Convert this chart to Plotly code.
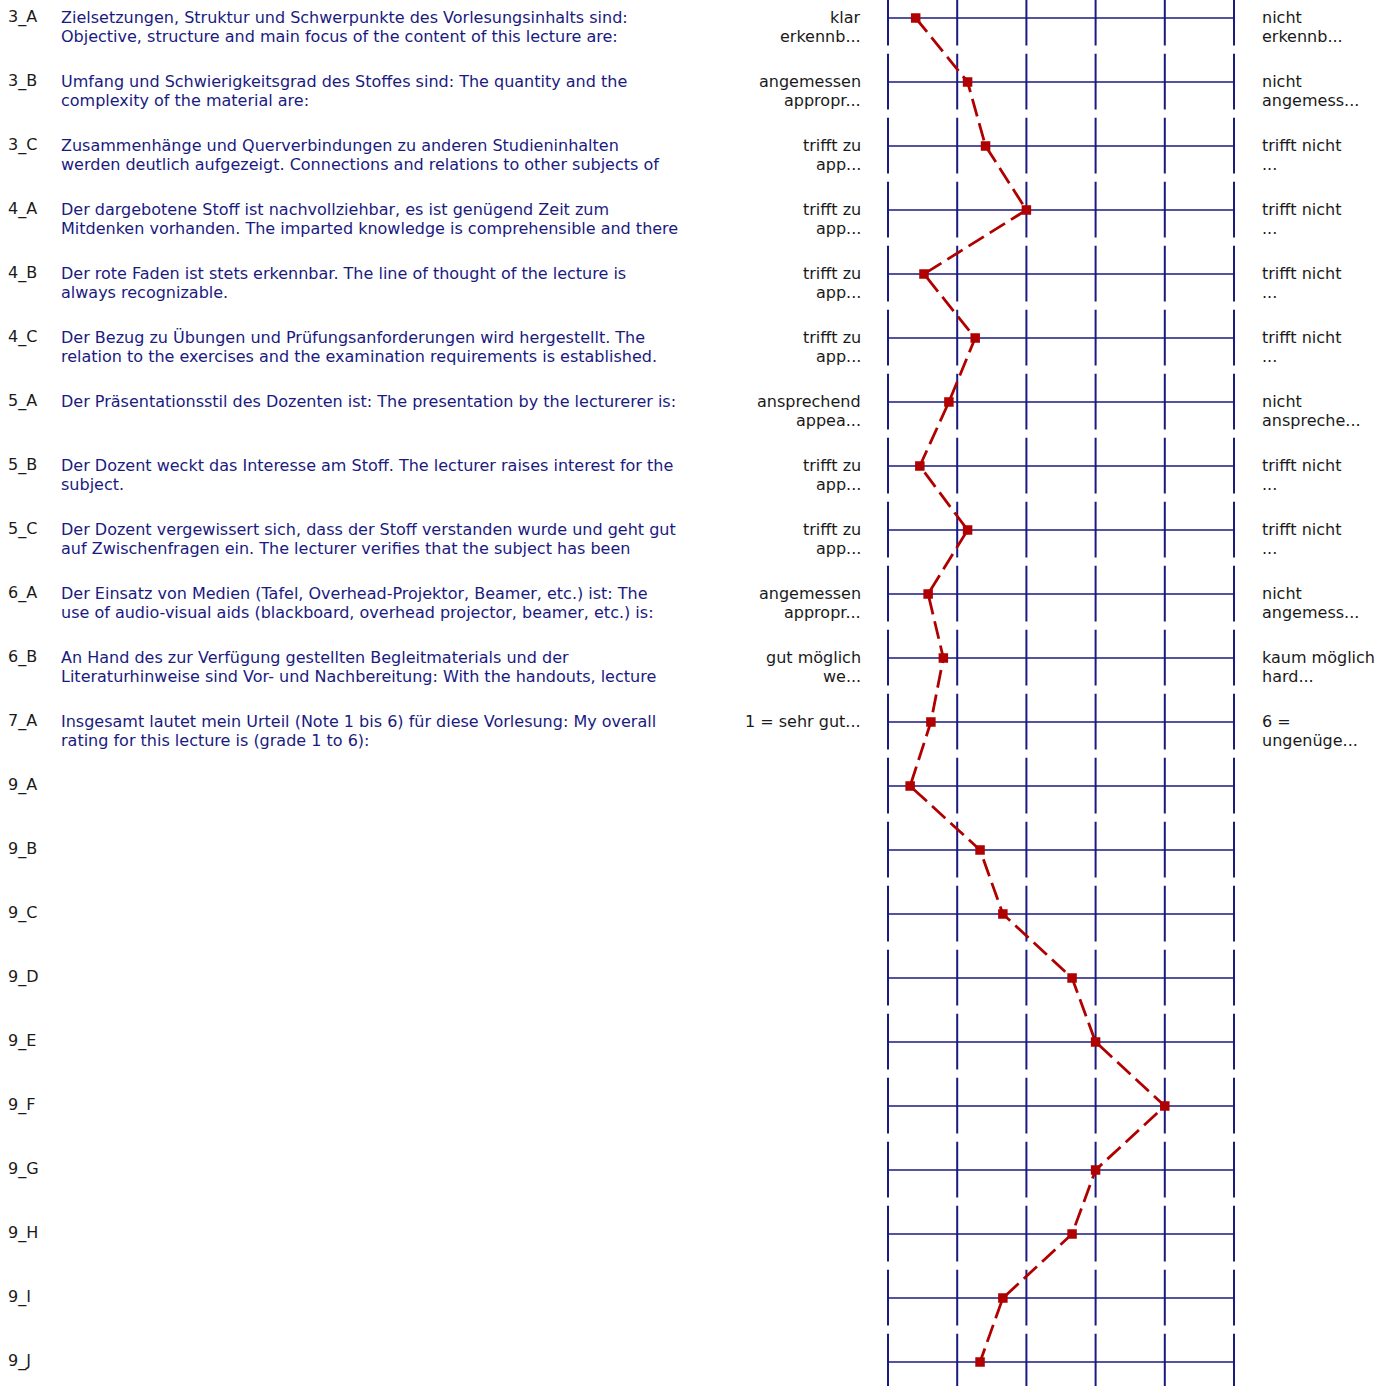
import plotly.graph_objects as go

# ---- data ----
row_ids = ["3_A", "3_B", "3_C", "4_A", "4_B", "4_C", "5_A", "5_B", "5_C", "6_A", "6_B", "7_A",
           "9_A", "9_B", "9_C", "9_D", "9_E", "9_F", "9_G", "9_H", "9_I", "9_J"]
questions = [
    "Zielsetzungen, Struktur und Schwerpunkte des Vorlesungsinhalts sind:<br>Objective, structure and main focus of the content of this lecture are:",
    "Umfang und Schwierigkeitsgrad des Stoffes sind: The quantity and the<br>complexity of the material are:",
    "Zusammenhänge und Querverbindungen zu anderen Studieninhalten<br>werden deutlich aufgezeigt. Connections and relations to other subjects of",
    "Der dargebotene Stoff ist nachvollziehbar, es ist genügend Zeit zum<br>Mitdenken vorhanden. The imparted knowledge is comprehensible and there",
    "Der rote Faden ist stets erkennbar. The line of thought of the lecture is<br>always recognizable.",
    "Der Bezug zu Übungen und Prüfungsanforderungen wird hergestellt. The<br>relation to the exercises and the examination requirements is established.",
    "Der Präsentationsstil des Dozenten ist: The presentation by the lecturerer is:",
    "Der Dozent weckt das Interesse am Stoff. The lecturer raises interest for the<br>subject.",
    "Der Dozent vergewissert sich, dass der Stoff verstanden wurde und geht gut<br>auf Zwischenfragen ein. The lecturer verifies that the subject has been",
    "Der Einsatz von Medien (Tafel, Overhead-Projektor, Beamer, etc.) ist: The<br>use of audio-visual aids (blackboard, overhead projector, beamer, etc.) is:",
    "An Hand des zur Verfügung gestellten Begleitmaterials und der<br>Literaturhinweise sind Vor- und Nachbereitung: With the handouts, lecture",
    "Insgesamt lautet mein Urteil (Note 1 bis 6) für diese Vorlesung: My overall<br>rating for this lecture is (grade 1 to 6):",
    "", "", "", "", "", "", "", "", "", "",
]
left_poles = [
    "klar<br>erkennb...", "angemessen<br>appropr...", "trifft zu<br>app...", "trifft zu<br>app...",
    "trifft zu<br>app...", "trifft zu<br>app...", "ansprechend<br>appea...", "trifft zu<br>app...",
    "trifft zu<br>app...", "angemessen<br>appropr...", "gut möglich<br>we...", "1 = sehr gut...",
    "", "", "", "", "", "", "", "", "", "",
]
right_poles = [
    "nicht<br>erkennb...", "nicht<br>angemess...", "trifft nicht<br>...", "trifft nicht<br>...",
    "trifft nicht<br>...", "trifft nicht<br>...", "nicht<br>anspreche...", "trifft nicht<br>...",
    "trifft nicht<br>...", "nicht<br>angemess...", "kaum möglich<br>hard...", "6 =<br>ungenüge...",
    "", "", "", "", "", "", "", "", "", "",
]
mean_values = [1.40, 2.15, 2.41, 3.0, 1.52, 2.26, 1.88, 1.46, 2.15, 1.58, 1.80, 1.62,
               1.32, 2.33, 2.66, 3.66, 4.0, 5.0, 4.0, 3.66, 2.66, 2.33]
scale_points = [1, 2, 3, 4, 5, 6]

# ---- style ----
W, H = 1393, 1386
ROW_PX = 64.0
NAVY = "#1a1a80"
RED = "#b00000"
FONT = "DejaVu Sans, Liberation Sans, Arial, sans-serif"
FS = 16
n = len(row_ids)
rows = list(range(n))

fig = go.Figure()

# horizontal lines per row
hx, hy = [], []
for r in rows:
    hx += [scale_points[0], scale_points[-1], None]
    hy += [r, r, None]
fig.add_trace(go.Scatter(x=hx, y=hy, mode="lines", line=dict(color=NAVY, width=1.5),
                         hoverinfo="skip", showlegend=False))

# vertical segments per row (with small gaps between rows)
vx, vy = [], []
for r in rows:
    for p in scale_points:
        vx += [p, p, None]
        vy += [r - 0.44, r + 0.43, None]
fig.add_trace(go.Scatter(x=vx, y=vy, mode="lines", line=dict(color=NAVY, width=2),
                         hoverinfo="skip", showlegend=False))

# profile line
fig.add_trace(go.Scatter(x=mean_values, y=rows, mode="lines+markers",
                         line=dict(color=RED, width=2.8, dash="18px,7px"),
                         marker=dict(symbol="square", size=9.5, color=RED),
                         hoverinfo="skip", showlegend=False))

LINE_OFFSETS = [1, -18]  # pixel shift (up positive) of line 1 and line 2 centres


def add_lines(text, r, xpx, xanchor, color):
    out = []
    for k, line in enumerate(text.split("<br>")):
        out.append(dict(x=xpx / W, y=r, xref="paper", yref="y", text=line, showarrow=False,
                        xanchor=xanchor, yanchor="middle", yshift=LINE_OFFSETS[k],
                        font=dict(family=FONT, size=FS, color=color)))
    return out


ann = []
for r in rows:
    ann += add_lines(row_ids[r], r, 6, "left", "#1a1a1a")
    if questions[r]:
        ann += add_lines(questions[r], r, 59, "left", NAVY)
    if left_poles[r]:
        ann += add_lines(left_poles[r], r, 863, "right", "#1a1a1a")
    if right_poles[r]:
        ann += add_lines(right_poles[r], r, 1260, "left", "#1a1a1a")

pad_units = 2.5 / 69.2
fig.update_layout(
    width=W, height=H,
    margin=dict(l=0, r=0, t=0, b=0),
    paper_bgcolor="white", plot_bgcolor="white",
    xaxis=dict(domain=[(888 - 2.5) / W, (1234 + 2.5) / W],
               range=[scale_points[0] - pad_units, scale_points[-1] + pad_units],
               visible=False, fixedrange=True),
    yaxis=dict(range=[(H - 18) / ROW_PX, -18 / ROW_PX], visible=False, fixedrange=True),
    annotations=ann,
)

fig.write_html("out.html", config={"displayModeBar": False},
               post_script="document.body.style.margin='0px';")
